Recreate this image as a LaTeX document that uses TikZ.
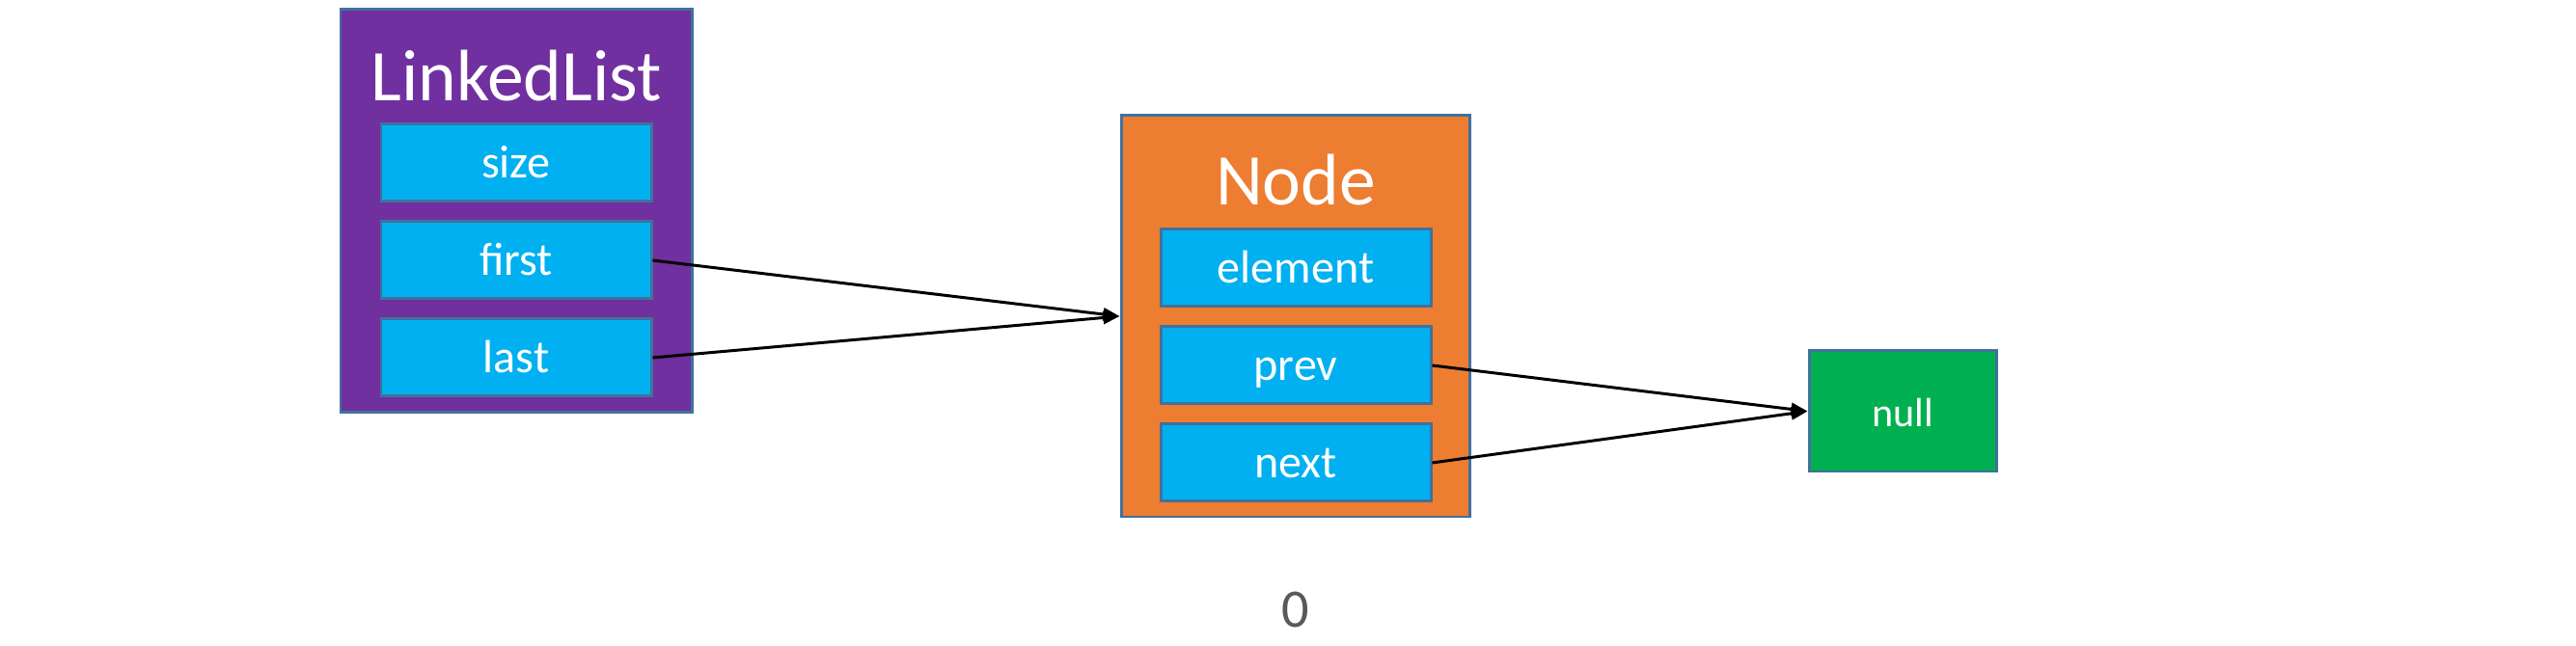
\documentclass[tikz,border=0pt]{standalone}
\usepackage{fontspec}
\setmainfont{Carlito}
\usetikzlibrary{arrows.meta,positioning}
\definecolor{listpurple}{HTML}{7030A0}
\definecolor{nodeorange}{HTML}{ED7D31}
\definecolor{fieldblue}{HTML}{00B0F0}
\definecolor{nullgreen}{HTML}{00B050}
\definecolor{edgeblue}{HTML}{41719C}
\definecolor{labelgray}{HTML}{595959}
\begin{document}
\begin{tikzpicture}[node distance=1.01cm, auto]
            % Define styles
            \tikzstyle{outer} = [rectangle, draw=edgeblue, line width=0.85pt, minimum width=3.63cm, minimum height=4.17cm]
            \tikzstyle{title} = [anchor=base, text=white, font=\fontsize{21.5}{24}\selectfont]
            \tikzstyle{field} = [rectangle, draw=edgeblue, line width=0.85pt, fill=fieldblue, text=white, minimum width=2.8cm, minimum height=0.8cm, text height=9pt, text depth=0pt, font=\fontsize{13.7}{16}\selectfont]
            \tikzstyle{arrow} = [line width=0.85pt, -{Triangle[length=0.17cm,width=0.13cm]}]

            \useasboundingbox (0,0) rectangle (26.7,6.7);

            % LinkedList (left)
            \node (listbox) [outer, fill=listpurple, minimum width=3.64cm, minimum height=4.18cm] at (5.35,4.51) {};
            \node (listtitle) [title] at (5.35,5.65) {LinkedList};
            \node (size) [field] at (5.35,5.01) {size};
            \node (first) [field, below of=size] {first};
            \node (last) [field, below of=first] {last};

            % Node (middle)
            \node (nodebox) [outer, fill=nodeorange, minimum width=3.61cm, minimum height=4.16cm] at (13.425,3.42) {};
            \node (nodetitle) [title] at (13.43,4.57) {Node};
            \node (element) [field] at (13.43,3.92) {element};
            \node (prev) [field, below of=element] {prev};
            \node (next) [field, below of=prev] {next};

            % null (right)
            \node (null) [field, fill=nullgreen, minimum width=1.94cm, minimum height=1.25cm, font=\fontsize{12}{14}\selectfont] at (19.72,2.435) {null};

            % page number
            \node (zero) [anchor=base, text=labelgray, font=\fontsize{16}{18}\selectfont] at (13.43,0.19) {0};

            % arrows
            \draw [arrow] (first.east) -- (nodebox.west);
            \draw [arrow] (last.east) -- (nodebox.west);
            \draw [arrow] (prev.east) -- (null.west);
            \draw [arrow] (next.east) -- (null.west);

      \end{tikzpicture}
\end{document}
